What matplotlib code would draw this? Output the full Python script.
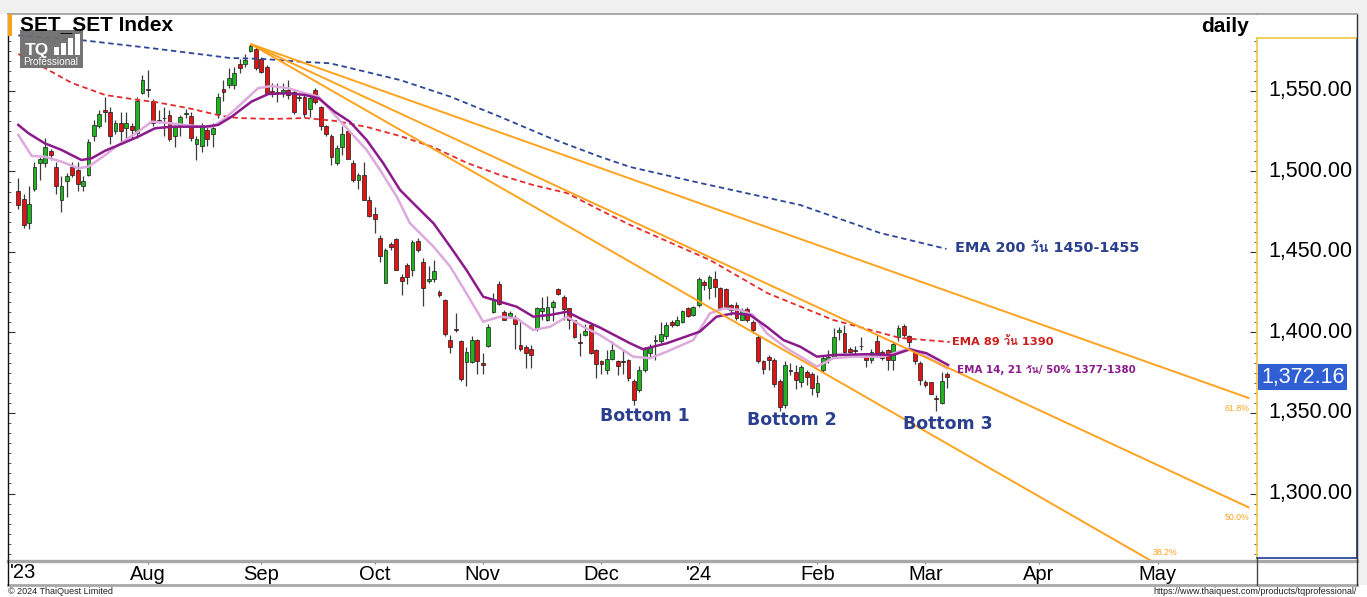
import numpy as np
import pandas as pd
import matplotlib
matplotlib.use("Agg")
import matplotlib.pyplot as plt
from matplotlib.patches import Rectangle
from matplotlib.lines import Line2D
from matplotlib.ticker import MultipleLocator
from matplotlib import font_manager, ft2font
import matplotlib.transforms as mtransforms

# ---------------------------------------------------------------- data
title = "SET_SET Index"
period = "daily"
holidays = ["2023-07-28", "2023-08-01", "2023-08-14", "2023-10-13", "2023-10-23",
            "2023-12-05", "2023-12-11", "2023-12-29", "2024-01-01", "2024-02-26"]
first_day, last_day, axis_end = "2023-06-27", "2024-03-07", "2024-06-07"

open_ = [1488, 1483, 1468, 1489, 1505, 1505, 1513, 1503, 1482, 1494,
         1503, 1501, 1491, 1498, 1522, 1528, 1538, 1537, 1525, 1530,
         1527, 1528, 1524, 1549, 1551, 1544, 1532, 1533, 1535, 1522,
         1528, 1536, 1534.5, 1517, 1516, 1526, 1523, 1536, 1551, 1554,
         1554, 1567, 1567, 1575, 1576, 1570, 1565, 1550, 1549.5, 1549,
         1550.5, 1549.5, 1545.5, 1546.5, 1539, 1550.5, 1540, 1528.5, 1522, 1505,
         1515, 1525, 1505, 1494.5, 1498, 1482.5, 1473.5, 1458.5, 1431, 1455,
         1458, 1434.5, 1442, 1438.5, 1457, 1444, 1432, 1433.5, 1425, 1420,
         1395.5, 1402, 1394.5, 1381.5, 1381.5, 1395.5, 1381, 1391.5, 1413, 1430,
         1413, 1410, 1409, 1392, 1391, 1389.5, 1402.5, 1413.5, 1408, 1416,
         1427, 1422, 1415, 1407.5, 1393.8, 1398.5, 1404.5, 1389, 1382, 1376.5,
         1383.5, 1382, 1382, 1383, 1370, 1364, 1376.5, 1387, 1395, 1395,
         1398, 1406.5, 1404.5, 1406.5, 1415, 1411, 1417, 1431.5, 1427.5, 1433,
         1427.5, 1427, 1417, 1417, 1408, 1414.5, 1406.5, 1397.5, 1382, 1385,
         1383, 1370, 1355, 1376.5, 1375.5, 1369.5, 1375.5, 1374.5, 1363, 1376.5,
         1383, 1385, 1400.5, 1399.5, 1389.5, 1388.7, 1391.6, 1385, 1383, 1394.5,
         1388, 1389, 1383, 1397, 1404, 1398, 1388, 1381, 1369.5, 1369,
         1359.2, 1356, 1374]
high = [1496, 1486, 1491, 1506, 1509, 1521, 1514, 1506, 1497, 1499,
        1506, 1506, 1497, 1520, 1532, 1538, 1546, 1540, 1532, 1537,
        1537, 1530, 1546, 1560, 1563, 1545, 1538, 1540, 1538, 1529,
        1535, 1539, 1537, 1522, 1530, 1529, 1530, 1549, 1557, 1564,
        1565, 1570, 1573, 1579.2, 1578, 1571, 1566, 1555, 1555, 1555,
        1557, 1551, 1547.5, 1547.5, 1547.5, 1552, 1540.5, 1529, 1523, 1516.5,
        1528, 1526, 1507, 1499, 1506, 1484.5, 1478, 1460.5, 1452.5, 1456,
        1458.5, 1436.5, 1443, 1457.5, 1458.5, 1446, 1441, 1445, 1426.5, 1421,
        1398.5, 1412, 1395.5, 1391, 1398, 1396, 1387, 1405.5, 1424.5, 1432,
        1414, 1413.5, 1411, 1406.5, 1392, 1392, 1416, 1422, 1422.5, 1420,
        1427.5, 1423.5, 1415.5, 1408, 1399.5, 1405, 1405.5, 1389.5, 1383, 1389,
        1394.5, 1383, 1389, 1383.5, 1371, 1379, 1391, 1393, 1398.5, 1406.5,
        1406.5, 1407.5, 1410, 1414, 1416, 1416.5, 1434.5, 1432.5, 1435.5, 1438,
        1428.5, 1427.5, 1418, 1419, 1415, 1416, 1407.5, 1398.5, 1383, 1386,
        1384, 1371, 1382, 1381, 1380, 1380, 1376.5, 1375.5, 1373.5, 1386,
        1389, 1402.5, 1403.5, 1404.5, 1391, 1391.5, 1397.5, 1386, 1390, 1398.5,
        1389, 1390, 1394.5, 1404.5, 1405, 1398.5, 1389, 1382, 1370.5, 1369.5,
        1361, 1375.5, 1375.5]
low = [1477, 1465, 1464, 1488, 1495, 1503, 1507, 1486, 1475, 1484,
       1496.5, 1488, 1488, 1497, 1519, 1527, 1531, 1517, 1523, 1517,
       1520, 1520, 1521, 1548, 1546, 1528, 1530, 1522, 1519, 1515,
       1522, 1533, 1519, 1507, 1512, 1516, 1515, 1533, 1544, 1552,
       1551, 1561, 1565, 1574, 1563, 1561, 1548, 1546, 1543, 1546.5,
       1545, 1536, 1543.5, 1534, 1534, 1542, 1526, 1522, 1504, 1504,
       1510, 1507.5, 1493.5, 1489, 1482, 1472, 1462, 1444, 1430.5, 1451.5,
       1438.5, 1423.5, 1430, 1435, 1450, 1416.5, 1430.5, 1431.5, 1422, 1398,
       1387.5, 1400.5, 1370, 1366.5, 1381, 1374, 1374, 1391, 1412, 1417,
       1407.5, 1409.5, 1389.5, 1388.5, 1378, 1378, 1401, 1408, 1407, 1407,
       1423, 1408, 1402, 1396.5, 1385.5, 1398, 1386.5, 1371.5, 1374.5, 1374,
       1383, 1373.5, 1374.5, 1370, 1355, 1363, 1375.5, 1384, 1383, 1393.5,
       1396, 1403.5, 1404, 1406, 1409.5, 1410, 1416, 1426.5, 1421, 1422,
       1414, 1415, 1411, 1407.5, 1407.5, 1406.5, 1399.5, 1381, 1374.5, 1376.5,
       1366, 1351, 1353, 1373.5, 1365, 1366, 1367.5, 1361, 1360, 1375.5,
       1381, 1384, 1395.5, 1387, 1387, 1386.5, 1389, 1378.5, 1381, 1385,
       1383, 1376.5, 1376.5, 1394.5, 1397.5, 1391, 1380.5, 1367.5, 1366, 1361.5,
       1351, 1355.5, 1365.5]
close = [1479, 1467, 1480, 1503, 1508, 1515, 1510, 1491, 1491, 1497,
         1497.5, 1492, 1494, 1518, 1529, 1536, 1537, 1522, 1530, 1525,
         1530, 1526, 1544, 1557, 1550.5, 1530, 1531.5, 1533.5, 1520, 1528,
         1534, 1536.5, 1521, 1520, 1529, 1520, 1527, 1546, 1549.5, 1558,
         1561, 1564, 1569, 1578, 1564, 1562, 1549, 1548.5, 1548.5, 1550.5,
         1547.5, 1537, 1546.5, 1536, 1545.5, 1543, 1528.5, 1523.5, 1509, 1514.5,
         1523, 1508, 1495, 1498, 1482.5, 1472.5, 1470.5, 1447.5, 1451, 1453,
         1439, 1432, 1434.5, 1456, 1451, 1427.5, 1433.5, 1438, 1423.5, 1399,
         1391, 1401.8, 1371, 1388, 1395.5, 1382, 1380, 1403.5, 1420, 1417.5,
         1408, 1412, 1405, 1389.5, 1387, 1386, 1415, 1415.5, 1416, 1419,
         1424, 1414.5, 1407.5, 1397.5, 1393.5, 1401, 1387.5, 1380.5, 1380.5, 1383.5,
         1389, 1379, 1381.5, 1372, 1358, 1376.5, 1389.5, 1391, 1395.5, 1399,
         1404.5, 1404.5, 1408, 1413.5, 1410, 1416, 1433.5, 1429.5, 1434.5, 1428,
         1415, 1416, 1414, 1409, 1414, 1407.5, 1401.5, 1382, 1377.5, 1383,
         1368, 1354, 1380, 1376.3, 1370.5, 1378.5, 1372.5, 1365.5, 1368.5, 1384,
         1385, 1397.5, 1401.5, 1388, 1388, 1388.5, 1391.4, 1383, 1388, 1387,
         1384, 1383, 1393, 1403, 1398.5, 1394, 1382, 1370.5, 1367.5, 1362,
         1359, 1370, 1372.16]

# moving averages (trading-day index, value)
ema200_day = [0, 11.4, 24.4, 39.2, 45.3, 52.2, 57.7, 61.4, 70.7, 80.0, 89.2,
              98.5, 107.7, 113.3, 126.2, 144.8, 159.6, 171.9]
ema200_val = [1584.5, 1581.7, 1576.7, 1570.5, 1569.9, 1568.2, 1567.2, 1564.3, 1556.8,
              1546.5, 1534.0, 1520.8, 1509.2, 1502.8, 1492.9, 1479.2, 1461.8, 1451.9]
ema89_day = [0, 4.9, 9.9, 16.1, 22.2, 25.3, 31.4, 37.7, 40.7, 47.0, 53.1, 58.7, 64.6,
             70.7, 76.8, 83.1, 89.2, 95.3, 101.6, 107.7, 113.3, 128.1, 138.7, 150.9,
             163.3, 172.5]
ema89_val = [1573.0, 1564.3, 1555.0, 1547.5, 1544.4, 1543.2, 1539.4, 1534.5, 1533.2,
             1532.6, 1533.2, 1531.4, 1527.6, 1522.0, 1515.2, 1505.3, 1497.8, 1491.6,
             1486.6, 1476.1, 1466.8, 1445.0, 1424.5, 1407.8, 1396.6, 1394.1]
ema21_day = [0, 1.9, 4.9, 8.0, 11.7, 13.6, 16.1, 19.1, 22.2, 25.3, 28.4, 34.6, 37.0,
             39.5, 43.2, 46.3, 50.0, 53.1, 55.6, 58.6, 61.4, 64.5, 67.6, 70.7, 73.8,
             76.9, 80.0, 83.0, 86.1, 89.2, 92.3, 95.4, 98.5, 101.6, 104.6, 107.7,
             113.3, 115.7, 120.1, 126.2, 129.3, 132.4, 135.5, 138.6, 141.7, 144.8,
             147.9, 150.9, 157.1, 162.0, 165.1, 168.2, 172.2]
ema21_val = [1528.9, 1523.7, 1517.5, 1513.4, 1507.1, 1508.2, 1512.9, 1517.1, 1521.6,
             1526.8, 1527.8, 1527.8, 1528.9, 1534.0, 1543.4, 1548.1, 1548.6, 1547.5,
             1545.5, 1537.1, 1530.9, 1519.6, 1505.1, 1488.5, 1478.1, 1467.8, 1453.3,
             1438.8, 1422.2, 1419.1, 1416.0, 1409.8, 1410.9, 1412.9, 1407.8, 1403.1,
             1393.3, 1389.6, 1393.3, 1400.5, 1409.8, 1411.9, 1410.9, 1403.6, 1395.3,
             1391.2, 1385.0, 1386.0, 1386.5, 1386.0, 1389.5, 1387.1, 1379.8]
ema14_day = [0, 2.5, 4.9, 8.0, 11.1, 13.0, 16.1, 18.5, 22.2, 24.7, 27.2, 30.9, 35.8,
             38.3, 40.7, 44.4, 46.9, 50.0, 53.1, 55.6, 58.6, 64.5, 67.0, 70.1, 72.5,
             76.9, 80.0, 83.0, 86.1, 89.2, 92.3, 95.4, 98.5, 101.6, 104.6, 107.7,
             113.9, 117.0, 120.1, 125.0, 128.1, 130.6, 133.6, 136.1, 138.6, 142.3,
             147.9, 150.9, 154.6, 160.2, 165.1, 168.2, 172.0]
ema14_val = [1522.7, 1509.6, 1509.2, 1506.1, 1502.0, 1503.0, 1510.2, 1516.5, 1524.7,
             1530.9, 1530.3, 1528.9, 1527.4, 1533.0, 1540.2, 1551.7, 1553.1, 1551.7,
             1548.6, 1546.5, 1535.1, 1513.4, 1500.9, 1484.3, 1468.0, 1453.3, 1440.9,
             1424.3, 1406.7, 1409.8, 1408.8, 1401.5, 1403.6, 1409.8, 1403.6, 1398.5,
             1385.0, 1384.0, 1388.1, 1395.3, 1411.9, 1415.0, 1414.0, 1410.9, 1399.5,
             1390.2, 1378.8, 1384.0, 1385.0, 1385.0, 1390.2, 1385.0, 1377.8]

# Fibonacci fan: drawn from the August high to the first bottom
fan_high_day, fan_high = 43, 1579.2
fan_low_day, fan_low = 115, 1355.0
fan_end_day = 228
fan_ratios = [0.382, 0.5, 0.618]
fan_labels = ["61.8%", "50.0%", "38.2%"]

price_ticks = [1300, 1350, 1400, 1450, 1500, 1550]
bottom_labels = ["Bottom 1", "Bottom 2", "Bottom 3"]
ema200_note = "EMA 200 วัน 1450-1455"
ema89_note = "EMA 89 วัน 1390"
ema14_note = "EMA 14, 21 วัน/ 50% 1377-1380"
copyright_note = "© 2024 ThaiQuest Limited"
url_note = "https://www.thaiquest.com/products/tqprofessional/"

# ---------------------------------------------------------------- fonts
def font_with(ch):
    for f in font_manager.fontManager.ttflist:
        try:
            if ord(ch) in ft2font.FT2Font(f.fname).get_charmap():
                return f.name
        except Exception:
            pass
    return None

thai = font_with("ว")
base = ["Liberation Sans", "DejaVu Sans"]
plt.rcParams["font.family"] = base
ann_family = ["DejaVu Sans"] + ([thai] if thai else [])

# ---------------------------------------------------------------- calendar
XMIN, XMAX = -1.9, 229.4
days = pd.bdate_range(first_day, last_day)
days = days[~days.isin(pd.to_datetime(holidays))]
axis_days = days.append(pd.bdate_range(pd.Timestamp(last_day) + pd.Timedelta(days=1), axis_end))
mon = axis_days.to_period("M")
month_idx = [i for i in range(1, len(axis_days))
             if mon[i] != mon[i - 1] and i < XMAX - 3][1:]
month_lab = [("'" + axis_days[i].strftime("%y")) if axis_days[i].month == 1
             else axis_days[i].strftime("%b") for i in month_idx]
year_lab = "'" + axis_days[0].strftime("%y")

# ---------------------------------------------------------------- figure
W, H = 1367, 597
fig = plt.figure(figsize=(W / 100, H / 100), dpi=100)
fig.patch.set_facecolor("white")

def fx(px):
    return px / W

def fy(py):
    return 1 - py / H

# background strips
fig.add_artist(Rectangle((0, fy(14)), 1, 14 / H, transform=fig.transFigure,
                         facecolor="#f0f0f0", edgecolor="none", zorder=0))
fig.add_artist(Rectangle((fx(1358), fy(585)), 9 / W, 585 / H, transform=fig.transFigure,
                         facecolor="#f0f0f0", edgecolor="none", zorder=0))

ax = fig.add_axes([fx(8), fy(560), fx(1257) - fx(8), fy(14) - fy(560)])
ax.set_facecolor("white")

# candles
x = np.arange(len(close))
o, h, l, c = map(np.asarray, (open_, high, low, close))
up = c >= o
ax.vlines(x, l, h, color="#3c3c3c", lw=0.9, zorder=2)
bot = np.minimum(o, c)
bh = np.maximum(np.abs(c - o), 0.5)
ax.bar(x[up], bh[up], bottom=bot[up], width=0.7, color="#1eb41e",
       edgecolor="#1a1a1a", lw=0.5, zorder=3)
ax.bar(x[~up], bh[~up], bottom=bot[~up], width=0.7, color="#e01414",
       edgecolor="#1a1a1a", lw=0.5, zorder=3)

# moving averages
ax.plot(ema200_day, ema200_val, color="#2d4796", lw=1.3, ls=(0, (3, 2)), zorder=4)
ax.plot(ema89_day, ema89_val, color="#e52b2b", lw=1.3, ls=(0, (3, 2)), zorder=4)
ax.plot(ema14_day, ema14_val, color="#ddaadd", lw=1.8, zorder=4)
ax.plot(ema21_day, ema21_val, color="#8b1a8b", lw=1.8, zorder=4)

ax.set_xticks(month_idx)
ax.set_xticklabels(month_lab, fontsize=14.5)
ax.set_xlim(XMIN, XMAX)
ax.set_ylim(1258.7, 1597.8)

# fan lines
y0 = ax.get_ylim()[0]
for r, lab in zip(fan_ratios, fan_labels):
    slope = -r * (fan_high - fan_low) / (fan_low_day - fan_high_day)
    y_end = fan_high + slope * (fan_end_day - fan_high_day)
    ax.plot([fan_high_day, fan_end_day], [fan_high, y_end], color="#ffa31f",
            lw=1.4, zorder=5, solid_capstyle="butt")
    if y_end > y0:
        ax.annotate(lab, (fan_end_day, y_end), xytext=(0, -4), textcoords="offset points",
                    ha="right", va="top", fontsize=6.3, color="#ffa31f")
    else:
        xb = fan_high_day + (y0 - fan_high) / slope
        ax.annotate(lab, (xb, y0), xytext=(2, 2), textcoords="offset points",
                    ha="left", va="bottom", fontsize=6.3, color="#ffa31f")

# annotations
navy = "#2b3f8f"
ax.text(173.5, 1452.5, ema200_note, color=navy, fontsize=10.4, fontweight="bold",
        family=ann_family, va="center", ha="left", zorder=6)
ax.text(173.0, 1394.7, ema89_note, color="#cc1c1c", fontsize=8.2, fontweight="bold",
        family=ann_family, va="center", ha="left", zorder=6)
ax.text(173.8, 1376.7, ema14_note, color="#8b1a8b", fontsize=7.4, fontweight="bold",
        family=ann_family, va="center", ha="left", zorder=6)
for lab, (bx, by) in zip(bottom_labels, [(116.1, 1348.1), (143.3, 1345.7), (172.2, 1343.2)]):
    ax.text(bx, by, lab, color=navy, fontsize=12.5, fontweight="bold",
            family=["DejaVu Sans"], ha="center", va="center", zorder=6)

# axes styling
for s in ("right", "bottom"):
    ax.spines[s].set_visible(False)
ax.spines["top"].set_color("#9a9a9a")
ax.spines["top"].set_linewidth(1.2)
ax.spines["left"].set_color("#111111")
ax.spines["left"].set_linewidth(1.0)
ax.set_yticks(price_ticks)
ax.yaxis.set_minor_locator(MultipleLocator(6.25))
ax.tick_params(axis="y", which="major", direction="in", length=5, width=0.8,
               color="#333333", labelleft=False)
ax.tick_params(axis="y", which="minor", direction="in", length=2.5, width=0.7,
               color="#555555")
ax.tick_params(axis="x", direction="out", length=3, width=0.8, color="#777777", pad=0.5)
ax.set_ylim(1258.7, 1597.8)
fig.text(fx(10), fy(573), year_lab, fontsize=14.5, ha="left", va="center")

# right price axis
top_px = 38
ra = fig.add_axes([fx(1257), fy(558), fx(1357) - fx(1257), fy(top_px) - fy(558)])
ylo, yhi = ax.get_ylim()
ppv = (560 - 14) / (yhi - ylo)
ra.set_xlim(0, 1)
ra.set_xticks([])
ra.set_yticks(price_ticks)
ra.set_ylim(ylo + (560 - 558) / ppv, yhi - (top_px - 14) / ppv)
ra.yaxis.set_minor_locator(MultipleLocator(6.25))
ra.tick_params(axis="y", which="major", direction="out", length=5, width=0.8,
               color="#333333", labelleft=False)
ra.tick_params(axis="y", which="minor", direction="out", length=2.5, width=0.7,
               color="#555555")
ra.spines["left"].set_color("#f2c744")
ra.spines["top"].set_color("#f2c744")
ra.spines["right"].set_color("#1f3a93")
ra.spines["bottom"].set_color("#1f3a93")
for s in ra.spines.values():
    s.set_linewidth(1.2)
tr = mtransforms.blended_transform_factory(ra.transAxes, ra.transData)
for v in price_ticks:
    ra.text(0.11, v, f"{v:,.2f}", transform=tr, fontsize=15.5, ha="left", va="center")
ra.text(0.04, close[-1], f"{close[-1]:,.2f}", transform=tr, fontsize=15.5, ha="left",
        va="center", color="white",
        bbox=dict(facecolor="#2f5fd3", edgecolor="none", boxstyle="square,pad=0.12"))

# frame lines and bands
def fline(xs, ys, **kw):
    fig.add_artist(Line2D([fx(v) for v in xs], [fy(v) for v in ys],
                          transform=fig.transFigure, **kw))

fline([8, 1357], [561, 561], color="#a8a8a8", lw=2.4)
fline([8, 1357], [585, 585], color="#a8a8a8", lw=2.0)
fline([1257, 1257], [558, 585], color="#444444", lw=1.0)
fline([1357, 1357], [14, 585], color="#333333", lw=1.0)
fline([8, 8], [560, 585], color="#111111", lw=1.0)
fline([1257, 1357], [14, 14], color="#9a9a9a", lw=1.2)

# logo (under the title)
fig.add_artist(Rectangle((fx(20), fy(68)), 63 / W, 38 / H, transform=fig.transFigure,
                         facecolor="#6e6e6e", edgecolor="none", alpha=0.95, zorder=10))
fig.text(fx(25), fy(50), "TQ", fontsize=12.5, fontweight="bold", color="white",
         va="center", ha="left", zorder=11)
for bx, bt in [(54, 47), (61, 43), (68, 38), (75, 34)]:
    fig.add_artist(Rectangle((fx(bx), fy(55)), 5 / W, (55 - bt) / H,
                             transform=fig.transFigure, facecolor="white",
                             edgecolor="none", zorder=11))
fig.text(fx(23), fy(62), "Professional", fontsize=7.2, color="white",
         va="center", ha="left", zorder=11)

# title area
fig.add_artist(Rectangle((fx(8), fy(36)), 4.5 / W, 22 / H, transform=fig.transFigure,
                         facecolor="#f7a11c", edgecolor="none", zorder=12))
fig.text(fx(20), fy(25), title, fontsize=15, fontweight="bold", va="center", ha="left",
         zorder=13)
fig.text(fx(1249), fy(26), period, fontsize=15, fontweight="bold", va="center", ha="right")

# footer
fig.text(fx(8), fy(592), copyright_note, fontsize=6.5, color="#222222", va="center", ha="left")
fig.text(fx(1357), fy(592), url_note, fontsize=6.5, color="#222222", va="center", ha="right")

fig.savefig("out.png", dpi=100)
